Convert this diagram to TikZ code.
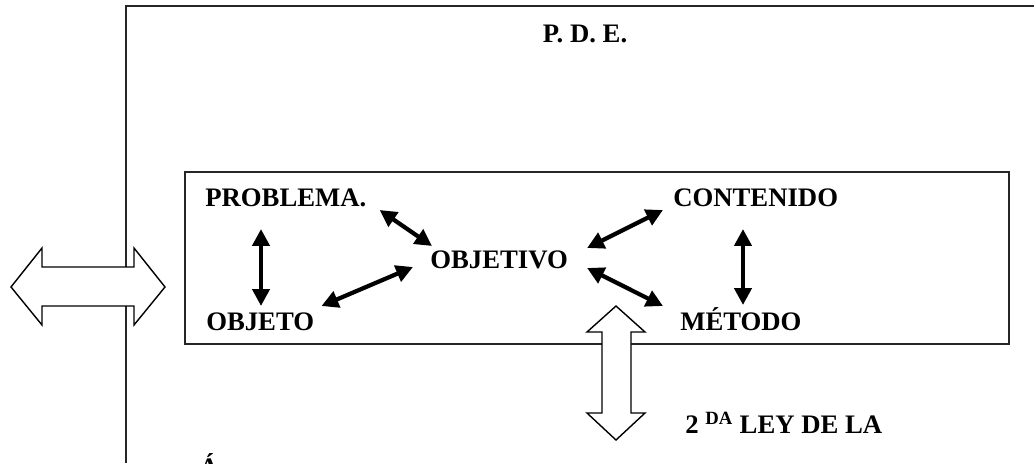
\documentclass[tikz,border=0pt]{standalone}
\usepackage{fontspec}
\setmainfont{Liberation Serif}
\usetikzlibrary{arrows.meta,calc}
\tikzstyle{lbl}=[inner sep=0pt, font=\fontsize{19pt}{22pt}\selectfont\bfseries]
\tikzstyle{link}=[{Triangle[length=12pt,width=12pt]}-{Triangle[length=12pt,width=12pt]}, line width=3pt]
\tikzstyle{frame}=[line width=1.3pt, draw=black!85]
\tikzstyle{block}=[line width=1pt, draw=black, fill=white, line join=miter]

\begin{document}
\begin{tikzpicture}[x=0.025cm, y=-0.025cm]
				\useasboundingbox (0,0) rectangle (1034,463);

				%The outer frame
				\draw[frame] (126,463) -- (126,6) -- (1040,6);
				\node[lbl, anchor=base] (pde) at (585,42) {P. D. E.};

				%The inner box
				\draw[frame] (185,172) rectangle (1009,344);

				%The labels
				\node[lbl, anchor=base west] (problema) at (205,206) {PROBLEMA.};
				\node[lbl, anchor=base west] (contenido) at (673,206) {CONTENIDO};
				\node[lbl, anchor=base west] (objetivo) at (430,268) {OBJETIVO};
				\node[lbl, anchor=base west] (objeto) at (206,330) {OBJETO};
				\node[lbl, anchor=base west] (metodo) at (680,330) {MÉTODO};
				\node[lbl, anchor=base west] (ley) at (685,433) {2 \textsuperscript{DA} LEY DE LA};
				\node[lbl, anchor=base] (cut) at (209,476) {Á};

				%The links
				\draw[link] ($(problema.base west)+(56,23)$) -- ($(objeto.base west)+(55,-24)$);
				\draw[link] ($(problema.base east)+(13,4)$) -- ($(objetivo.base west)+(2,-22)$);
				\draw[link] ($(objeto.base east)+(7,-24)$) -- ($(objetivo.base west)+(-17,-1)$);
				\draw[link] ($(objetivo.base east)+(19,-20)$) -- ($(contenido.base west)+(-10,4)$);
				\draw[link] ($(objetivo.base east)+(19,0)$) -- ($(metodo.base west)+(-17,-24)$);
				\draw[link] ($(contenido.base west)+(70,23)$) -- ($(metodo.base west)+(63,-25)$);

				%The block arrows
				\draw[block] (11,287) -- (42,248) -- (42,267) -- (134,267) -- (134,248) -- (165,287)
					-- (134,325) -- (134,306) -- (42,306) -- (42,325) -- cycle;
				\draw[block] (616,306) -- (645,332) -- (631,332) -- (631,413) -- (645,413) -- (616,440)
					-- (587,413) -- (602,413) -- (602,332) -- (587,332) -- cycle;
			\end{tikzpicture}
\end{document}
